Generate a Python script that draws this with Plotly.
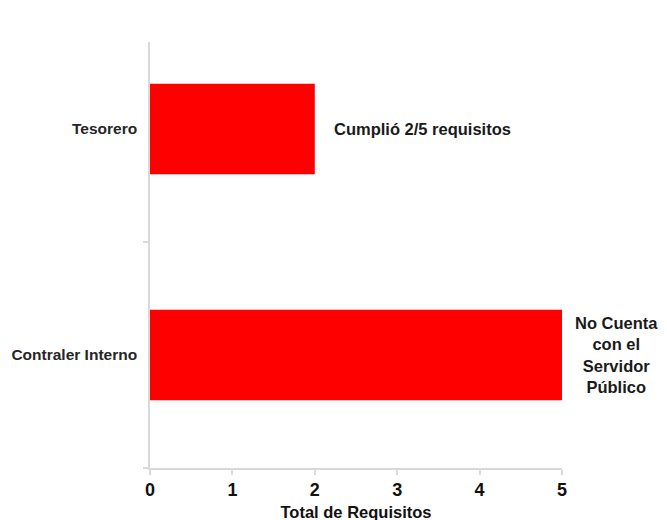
import plotly.graph_objects as go

categories = ["Contraler Interno", "Tesorero"]
values = [5, 2]
x_ticks = [0, 1, 2, 3, 4, 5]
notes = ["No Cuenta<br>con el<br>Servidor<br>Público", "Cumplió 2/5 requisitos"]
note_x = [5.66, 3.31]
x_max = 5.0

fig = go.Figure()
fig.add_trace(go.Bar(
    x=values, y=categories, orientation="h",
    marker=dict(color="#FF0000", line=dict(width=0)),
    width=0.4, showlegend=False, hoverinfo="skip",
))

for cat, nx, txt in zip(categories, note_x, notes):
    fig.add_annotation(x=nx / x_max, y=cat, text="<b>%s</b>" % txt, showarrow=False,
                       xref="x domain", yref="y", align="center",
                       xanchor="center", yanchor="middle",
                       font=dict(family="Liberation Sans, Arial", size=16.5, color="#1a1a1a"))

fig.update_layout(
    width=667, height=520,
    margin=dict(l=142, r=113, t=34, b=60),
    plot_bgcolor="white", paper_bgcolor="white",
    font=dict(family="Liberation Sans, Arial", color="#111111"),
    xaxis=dict(
        range=[0, x_max], tickvals=x_ticks, ticktext=["<b>%d</b>" % v for v in x_ticks],
        tickfont=dict(size=18, color="#111111"),
        showgrid=False, zeroline=False, showline=True, linecolor="#d9d9d9", linewidth=1.5,
        ticks="outside", ticklen=5, tickcolor="#d9d9d9", tickwidth=1.5,
        title=dict(text="<b>Total de Requisitos</b>", font=dict(size=16.5, color="#111111"), standoff=7),
        fixedrange=True, automargin=False,
    ),
    yaxis=dict(
        type="category", categoryorder="array", categoryarray=categories,
        range=[-0.5, 1.385], ticktext=["<b>%s</b>" % c for c in categories], tickvals=categories,
        tickfont=dict(size=15.5, color="#262626"),
        showgrid=False, zeroline=False, showline=True, linecolor="#d9d9d9", linewidth=1.5,
        ticks="outside", tickson="boundaries", ticklen=5, tickcolor="#d9d9d9", tickwidth=1.5,
        ticklabelstandoff=8, automargin=False,
    ),
)
fig.write_html("out.html")
